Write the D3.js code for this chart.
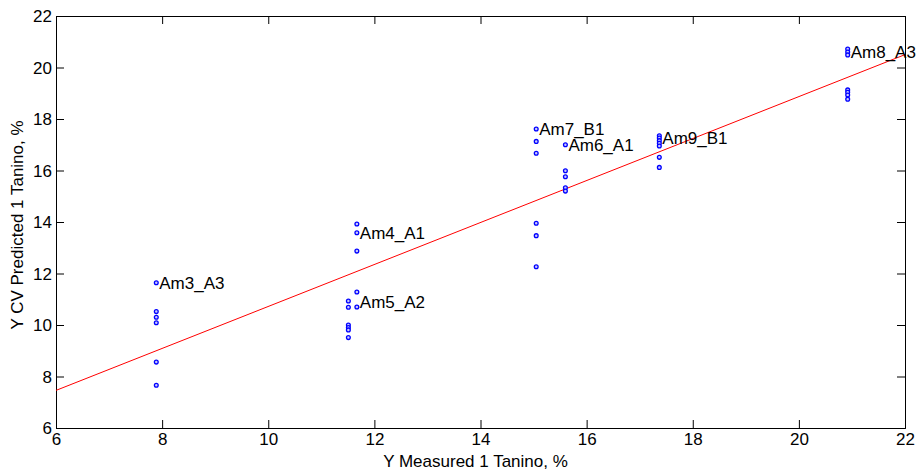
<!DOCTYPE html>
<html>
<head>
<meta charset="utf-8">
<script src="https://cdn.jsdelivr.net/npm/d3@7"></script>
<style>
  body { margin: 0; background: #fff; }
  text { font-family: "Liberation Sans", Arial, sans-serif; fill: #000; }
</style>
</head>
<body>
<svg id="chart"></svg>
<script>
// measured values (x) and CV predicted values (y), one row per sample
const measured = [
  7.89, 7.89, 7.89, 7.89, 7.89, 7.89,
  11.67, 11.67, 11.67,
  11.67, 11.67, 11.51, 11.51, 11.51, 11.51, 11.51, 11.51,
  15.05, 15.05, 15.05, 15.05, 15.05, 15.05,
  15.6, 15.6, 15.6, 15.6, 15.6,
  17.37, 17.37, 17.37, 17.37, 17.37, 17.37, 17.37,
  20.92, 20.92, 20.92, 20.92, 20.92, 20.92, 20.92
];
const predicted = [
  11.64, 10.52, 10.3, 10.09, 8.56, 7.66,
  13.92, 13.58, 12.87,
  11.28, 10.7, 10.93, 10.69, 10.0, 9.9, 9.81, 9.51,
  17.61, 17.13, 16.67, 13.95, 13.47, 12.26,
  17.0, 15.99, 15.76, 15.33, 15.2,
  17.35, 17.26, 17.16, 17.06, 16.95, 16.51, 16.12,
  20.72, 20.6, 20.49, 19.13, 19.04, 18.93, 18.77
];

// sample labels, anchored to a point
const labelNames = ["Am3_A3", "Am4_A1", "Am5_A2", "Am7_B1", "Am6_A1", "Am9_B1", "Am8_A3"];
const labelX = [7.89, 11.67, 11.67, 15.05, 15.6, 17.37, 20.92];
const labelY = [11.64, 13.58, 10.9, 17.61, 17.0, 17.28, 20.6];

// fitted line y = slope * x + intercept
const fitSlope = 0.815;
const fitIntercept = 2.57;

const xTicks = [6, 8, 10, 12, 14, 16, 18, 20, 22];
const yTicks = [6, 8, 10, 12, 14, 16, 18, 20, 22];

const width = 923, height = 470;
const margin = { top: 16, right: 18, bottom: 42, left: 56 };
const w = width - margin.left - margin.right;
const h = height - margin.top - margin.bottom;

const svg = d3.select("#chart").attr("width", width).attr("height", height);
const g = svg.append("g").attr("transform", `translate(${margin.left},${margin.top})`);

const x = d3.scaleLinear().domain([6, 22]).range([0, w]);
const y = d3.scaleLinear().domain([6, 22]).range([h, 0]);

g.append("defs").append("clipPath").attr("id", "clip")
  .append("rect").attr("width", w).attr("height", h);

// axes, MATLAB style: ticks inward on all sides
const tickLen = 8;
const axisB = g.append("g").attr("transform", `translate(0,${h})`)
  .call(d3.axisBottom(x).tickValues(xTicks).tickSize(-tickLen).tickPadding(3).tickFormat(d3.format("d")));
const axisT = g.append("g")
  .call(d3.axisTop(x).tickValues(xTicks).tickSize(-tickLen).tickFormat(""));
const axisL = g.append("g")
  .call(d3.axisLeft(y).tickValues(yTicks).tickSize(-tickLen).tickPadding(4).tickFormat(d3.format("d")));
const axisR = g.append("g").attr("transform", `translate(${w},0)`)
  .call(d3.axisRight(y).tickValues(yTicks).tickSize(-tickLen).tickFormat(""));

[axisB, axisT, axisL, axisR].forEach(a => {
  a.select(".domain").attr("stroke", "#000").attr("stroke-width", 1);
  a.selectAll(".tick line").attr("stroke", "#000");
  a.selectAll("text").style("font-size", "17px").attr("fill", "#000");
});
axisB.selectAll("text").attr("dy", "0.85em");
axisL.selectAll("text").attr("dy", "0.35em");

// fitted line
g.append("line")
  .attr("clip-path", "url(#clip)")
  .attr("x1", x(6)).attr("y1", y(fitSlope * 6 + fitIntercept))
  .attr("x2", x(22)).attr("y2", y(fitSlope * 22 + fitIntercept))
  .attr("stroke", "#ff0000").attr("stroke-width", 1);

// points
g.selectAll("circle")
  .data(measured.map((m, i) => [m, predicted[i]]))
  .join("circle")
  .attr("cx", d => x(d[0]))
  .attr("cy", d => y(d[1]))
  .attr("r", 1.9)
  .attr("fill", "#c8c8ff")
  .attr("stroke", "#0000ff")
  .attr("stroke-width", 1.3);

// point labels
g.selectAll(".lbl")
  .data(labelNames)
  .join("text")
  .attr("class", "lbl")
  .attr("x", (d, i) => x(labelX[i]) + 3)
  .attr("y", (d, i) => y(labelY[i]))
  .attr("dy", "0.36em")
  .style("font-size", "17px")
  .text(d => d);

// axis titles
svg.append("text")
  .attr("x", margin.left + w / 2 - 5)
  .attr("y", 467)
  .attr("text-anchor", "middle")
  .style("font-size", "17px")
  .text("Y Measured 1 Tanino, %");

svg.append("text")
  .attr("transform", `translate(23,${margin.top + h / 2 + 3}) rotate(-90)`)
  .attr("text-anchor", "middle")
  .style("font-size", "17px")
  .text("Y CV Predicted 1 Tanino, %");
</script>
</body>
</html>
